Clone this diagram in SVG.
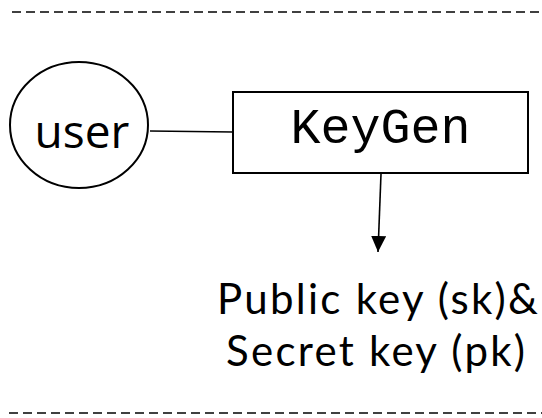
<svg xmlns="http://www.w3.org/2000/svg" width="542" height="418" viewBox="0 0 542 418">
  <style>
    .sep { stroke: #404040; stroke-width: 2.2; stroke-dasharray: 9 5; fill: none; }
    .shape { fill: #ffffff; stroke: #000000; stroke-width: 2; }
    .edge { stroke: #000000; stroke-width: 1.6; fill: none; }
    .sans { font-family: "Open Sans", "Noto Sans", sans-serif; fill: #000000; }
    .label { font-family: Lato, "Open Sans", sans-serif; fill: #000000; }
    .mono { font-family: "Liberation Mono", "Courier New", monospace; fill: #000000; }
  </style>
  <defs>
    <marker id="arrow" viewBox="0 0 16 15" refX="16" refY="7.5" markerWidth="16" markerHeight="15" markerUnits="userSpaceOnUse" orient="auto">
      <path d="M0,0 L16,7.5 L0,15 Z" fill="#000000"/>
    </marker>
  </defs>

  <rect width="542" height="418" fill="#ffffff"/>

  <!-- separators -->
  <line class="sep" x1="12" y1="12" x2="540" y2="12"/>
  <line class="sep" x1="9" y1="413" x2="542" y2="413"/>

  <!-- connectors -->
  <g id="connectors">
    <line class="edge" x1="150" y1="131" x2="233" y2="132"/>
    <line class="edge" x1="381" y1="174" x2="378" y2="252" marker-end="url(#arrow)"/>
  </g>

  <g id="user">
    <ellipse class="shape" cx="79" cy="125" rx="69" ry="63"/>
    <text class="sans" x="82" y="148" font-size="46" text-anchor="middle">user</text>
  </g>

  <g id="keygen">
    <rect class="shape" x="233" y="92" width="295" height="81"/>
    <text class="mono" x="380.5" y="143" font-size="50" text-anchor="middle">KeyGen</text>
  </g>

  <g id="keys">
    <text class="label" x="217" y="314" font-size="42" textLength="321" lengthAdjust="spacing">Public key (sk)&amp;</text>
    <text class="label" x="226" y="366" font-size="42" textLength="299" lengthAdjust="spacing">Secret key (pk)</text>
  </g>
</svg>
